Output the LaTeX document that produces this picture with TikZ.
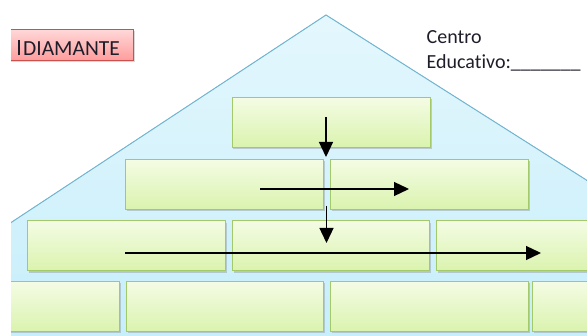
\documentclass[tikz,border=0pt]{standalone}
\usepackage{fontspec}
\setmainfont{Carlito}[Ligatures=NoCommon]
\usetikzlibrary{arrows.meta,shadows}
\definecolor{skyA}{HTML}{E4F7FD}
\definecolor{skyB}{HTML}{C6EEFB}
\definecolor{skyline}{HTML}{72B6D2}
\definecolor{boxtop}{HTML}{F4FCE4}
\definecolor{boxbot}{HTML}{DAF3AE}
\definecolor{boxline}{HTML}{A3C96A}
\definecolor{redtop}{HTML}{FFD8D8}
\definecolor{redbot}{HTML}{FF9C9C}
\definecolor{redline}{HTML}{C9524F}
\definecolor{inkc}{HTML}{1E1E2A}
\begin{document}
\begin{tikzpicture}[x=1pt,y=-1pt,
  gbox/.style={draw=boxline, line width=1pt, top color=boxtop, bottom color=boxbot,
    minimum height=50pt, anchor=north west, inner sep=0pt,
    drop shadow={shadow xshift=1.3pt, shadow yshift=-1.6pt, opacity=0.35, fill=gray}},
  tbox/.style={draw=redline, line width=0.8pt, top color=redtop, bottom color=redbot,
    anchor=north west, inner sep=0pt, minimum width=163pt, minimum height=31pt,
    drop shadow={shadow xshift=1.2pt, shadow yshift=-1.5pt, opacity=0.3, fill=gray}},
  arr/.style={line width=1.3pt, -{Triangle[length=15pt,width=14pt]}},
  lbl/.style={font=\fontsize{20}{25}\selectfont, text=inkc, inner sep=0pt, anchor=base west},
]
\useasboundingbox (0,0) rectangle (587,336);
\begin{scope}
  \clip (11,0) rectangle (587,336);
  % house
  \fill[top color=skyA, bottom color=skyB] (326,15) -- (-20,243) -- (-20,345) -- (610,345) -- (610,195) -- cycle;
  \draw[skyline, line width=1pt] (-20,243) -- (326,15) -- (610,195);
  % title box
  \node[tbox] (title) at (-30,29) {};
\end{scope}
\node[font=\fontsize{21.5}{26}\selectfont, text=inkc, inner sep=0pt, anchor=base] (titletext) at (71.5,56) {DIAMANTE};
\node[text=inkc, inner sep=0pt, anchor=south west] (bar) at (17.6,55.5) {\rule{2pt}{15pt}};
\begin{scope}
  \clip (11,0) rectangle (587,336);
  % row 1
  \node[gbox, minimum width=198.5pt] (r1a) at (231.5,97) {};
  % row 2
  \node[gbox, minimum width=198pt] (r2a) at (125,159) {};
  \node[gbox, minimum width=198pt] (r2b) at (330,159) {};
  % row 3
  \node[gbox, minimum width=198pt] (r3a) at (27,220.5) {};
  \node[gbox, minimum width=197.5pt] (r3b) at (231.7,220.5) {};
  \node[gbox, minimum width=198pt] (r3c) at (436.3,220.5) {};
  % row 4
  \node[gbox, minimum width=198pt] (r4a) at (-79,281.3) {};
  \node[gbox, minimum width=197.5pt] (r4b) at (125.7,281.3) {};
  \node[gbox, minimum width=198pt] (r4c) at (330,281.3) {};
  \node[gbox, minimum width=198pt] (r4d) at (531.7,281.3) {};
  % arrows
  \coordinate (v1s) at (326,117);
  \coordinate (v1e) at (326,157);
  \coordinate (h1s) at (260,189);
  \coordinate (h1e) at (409,189);
  \coordinate (v2s) at (326.5,206);
  \coordinate (v2e) at (326.5,243);
  \coordinate (h2s) at (125,253);
  \coordinate (h2e) at (541,253);
  \draw[arr] (v1s) -- (v1e);
  \draw[arr] (h1s) -- (h1e);
  \draw[arr] (v2s) -- (v2e);
  \draw[arr] (h2s) -- (h2e);
\end{scope}
\node[lbl] (centro) at (426.5,44) {Centro};
\node[lbl] (educ) at (426.5,69) {Educativo:\_\_\_\_\_\_\_};
\end{tikzpicture}
\end{document}
